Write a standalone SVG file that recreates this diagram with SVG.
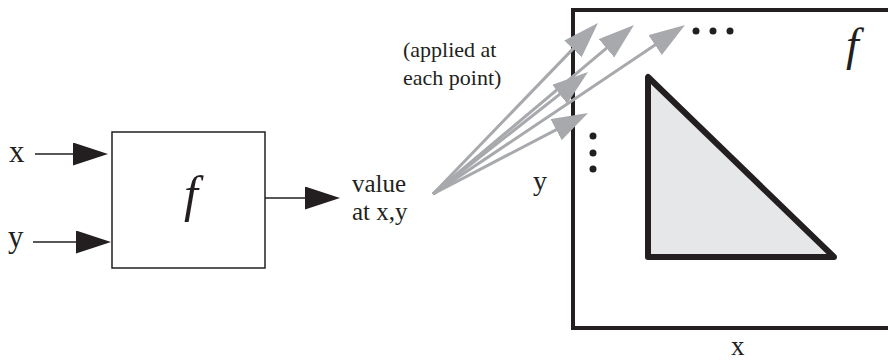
<svg xmlns="http://www.w3.org/2000/svg" width="888" height="361" viewBox="0 0 888 361">
<style>
  .t{font-family:'Liberation Serif','DejaVu Serif',serif;fill:#231f20}
  .fi{font-family:'Liberation Serif','DejaVu Serif',serif;font-style:italic;fill:#231f20}
  .bl{stroke:#231f20;stroke-width:1.5;fill:none}
  .gr{stroke:#a7a9ac;stroke-width:3;fill:none;marker-end:url(#ga)}
  .bk{stroke:#231f20;stroke-width:1.5;fill:none;marker-end:url(#ba)}
</style>
<defs>
  <marker id="ga" markerUnits="userSpaceOnUse" markerWidth="38" markerHeight="26" viewBox="0 0 38 26" refX="16" refY="12" orient="auto">
    <path d="M0,0 L36,12 L0,24 z" fill="#a7a9ac"/>
  </marker>
  <marker id="ba" markerUnits="userSpaceOnUse" markerWidth="37" markerHeight="25" viewBox="0 0 37 25" refX="5" refY="11.5" orient="auto">
    <path d="M0,0 L35,11.5 L0,23 z" fill="#231f20"/>
  </marker>
</defs>
<g id="label-x-in"><text class="t" x="9" y="162" font-size="31">x</text></g>
<g id="label-y-in"><text class="t" x="8" y="247" font-size="31">y</text></g>
<g id="box-f">
  <rect x="112" y="132" width="153" height="136" class="bl"/>
  <text class="fi" x="191" y="211" font-size="50" text-anchor="middle">f</text>
</g>
<g id="value-label">
  <text class="t" x="352" y="192" font-size="25">value</text>
  <text class="t" x="352" y="220" font-size="25">at x,y</text>
</g>
<g id="applied-label">
  <text class="t" x="403" y="57" font-size="22">(applied at</text>
  <text class="t" x="403" y="85" font-size="22">each point)</text>
</g>
<g id="image-frame">
  <path d="M890,10 H573 V328 H890" fill="none" stroke="#231f20" stroke-width="4"/>
  <polygon points="648,77 648,257 834,257" fill="#e6e7e8" stroke="#231f20" stroke-width="6" stroke-linejoin="round"/>
  <text class="fi" x="846" y="60" font-size="46">f</text>
  <g fill="#231f20">
    <circle cx="696" cy="31" r="3.5"/><circle cx="713" cy="31" r="3.5"/><circle cx="730" cy="31" r="3.5"/>
    <circle cx="593" cy="136" r="3.5"/><circle cx="593" cy="153" r="3.5"/><circle cx="593" cy="169" r="3.5"/>
  </g>
</g>
<g id="label-y-out"><text class="t" x="533" y="190" font-size="28">y</text></g>
<g id="label-x-out"><text class="t" x="731" y="355" font-size="27">x</text></g>
<g id="connectors">
  <line class="bk" x1="35" y1="154" x2="78" y2="154"/>
  <line class="bk" x1="33" y1="242" x2="81" y2="242"/>
  <line class="bk" x1="265" y1="198" x2="310" y2="198"/>
  <line class="gr" x1="433" y1="194" x2="584.1" y2="37.4"/>
  <line class="gr" x1="433" y1="194" x2="618.7" y2="37.9"/>
  <line class="gr" x1="433" y1="194" x2="668.4" y2="36.1"/>
  <line class="gr" x1="433" y1="194" x2="572.3" y2="84.4"/>
  <line class="gr" x1="433" y1="194" x2="570.3" y2="122.3"/>
</g>
</svg>
